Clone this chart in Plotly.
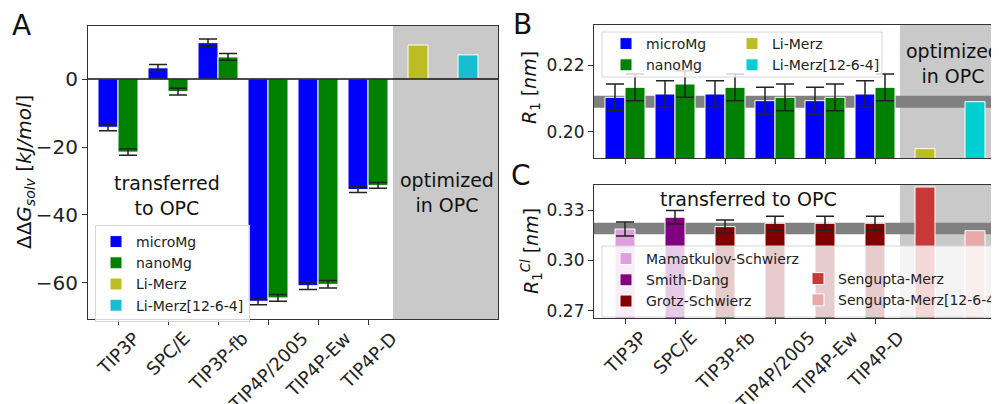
import plotly.graph_objects as go

# ---------------- data ----------------
water_models = ["TIP3P", "SPC/E", "TIP3P-fb", "TIP4P/2005", "TIP4P-Ew", "TIP4P-D"]

# Panel A: solvation free energy difference [kJ/mol]
dG_micro = [-14.2, 3.3, 10.7, -65.4, -60.8, -32.5]
dG_micro_err = [1.0, 1.0, 1.05, 1.0, 1.1, 0.9]
dG_nano = [-21.5, -3.7, 6.5, -64.4, -60.4, -31.3]
dG_nano_err = [0.9, 1.0, 1.0, 1.0, 1.1, 0.85]
opt_names = ["Li-Merz", "Li-Merz[12-6-4]"]
dG_opt = [10.0, 7.1]

# Panel B: R1 [nm]
R1_micro = [0.2103, 0.2113, 0.2113, 0.2093, 0.2093, 0.2113]
R1_micro_err = [0.0040, 0.0040, 0.0040, 0.0040, 0.0040, 0.0040]
R1_nano = [0.2133, 0.2143, 0.2133, 0.2103, 0.2103, 0.2133]
R1_nano_err = [0.0040, 0.0040, 0.0040, 0.0040, 0.0040, 0.0040]
R1_opt = [0.1949, 0.2090]
R1_ref = 0.209
R1_ref_err = 0.0018

# Panel C: R1 Cl [nm]
cl_force_field = ["Mamatkulov-Schwierz", "Smith-Dang", "Grotz-Schwierz",
                  "Grotz-Schwierz", "Grotz-Schwierz", "Grotz-Schwierz"]
R1Cl = [0.3187, 0.3257, 0.3201, 0.3221, 0.3221, 0.3221]
R1Cl_err = [0.0042, 0.0040, 0.0040, 0.0042, 0.0042, 0.0042]
cl_opt_names = ["Sengupta-Merz", "Sengupta-Merz[12-6-4]"]
R1Cl_opt = [0.3437, 0.3177]
R1Cl_ref = 0.319
R1Cl_ref_err = 0.0034

# ---------------- styling ----------------
W, H = 999, 404
OFF = 8  # page body margin offset in the browser
FONT = "DejaVu Sans"
AX = "#333333"
C_MICRO, C_NANO = "#0000ff", "#008000"
C_LM_A, C_LM12_A = "#bcbd22", "#17becf"
C_LM_B, C_LM12_B = "#bcbd22", "#00ced1"
CL_COLORS = {"Mamatkulov-Schwierz": "#dda0dd", "Smith-Dang": "#800080",
             "Grotz-Schwierz": "#800000"}
CL_OPT_COLORS = ["#c83838", "#eaa9a9"]
LIGHTGREY = "#c9c9c9"
BAND = "#808080"


def px(x):
    return (x - OFF) / W


def py(y):
    return 1 - (y - OFF) / H


xpos = list(range(len(water_models)))
xopt = [len(water_models), len(water_models) + 1]

fig = go.Figure()
err_style = dict(type="data", visible=True, color="#222222", thickness=1.5, width=9)
bar_line = dict(color="white", width=1)


def add_bar(x, y, err, color, name, xa, ya, legend, offset, show=True):
    kw = {}
    if err is not None:
        kw["error_y"] = dict(array=err, **err_style)
    fig.add_trace(go.Bar(x=x, y=y, name=name, marker=dict(color=color, line=bar_line),
                         width=0.4, offset=offset, xaxis=xa, yaxis=ya,
                         legend=legend, showlegend=show, **kw))


# Panel A
add_bar(xpos, dG_micro, dG_micro_err, C_MICRO, "microMg", "x", "y", "legend", -0.4)
add_bar(xpos, dG_nano, dG_nano_err, C_NANO, "nanoMg", "x", "y", "legend", 0.0)
add_bar([xopt[0]], [dG_opt[0]], None, C_LM_A, opt_names[0], "x", "y", "legend", -0.2)
add_bar([xopt[1]], [dG_opt[1]], None, C_LM12_A, opt_names[1], "x", "y", "legend", -0.2)

# Panel B
add_bar(xpos, R1_micro, R1_micro_err, C_MICRO, "microMg", "x2", "y2", "legend2", -0.4)
add_bar(xpos, R1_nano, R1_nano_err, C_NANO, "nanoMg", "x2", "y2", "legend2", 0.0)
add_bar([xopt[0]], [R1_opt[0]], None, C_LM_B, opt_names[0], "x2", "y2", "legend3", -0.2)
add_bar([xopt[1]], [R1_opt[1]], None, C_LM12_B, opt_names[1], "x2", "y2", "legend3", -0.2)

# Panel C
seen = []
for ff in cl_force_field:
    if ff in seen:
        continue
    seen.append(ff)
    idx = [i for i, f in enumerate(cl_force_field) if f == ff]
    add_bar([xpos[i] for i in idx], [R1Cl[i] for i in idx], [R1Cl_err[i] for i in idx],
            CL_COLORS[ff], ff, "x3", "y3", "legend4", -0.2)
add_bar([xopt[0]], [R1Cl_opt[0]], None, CL_OPT_COLORS[0], cl_opt_names[0], "x3", "y3", "legend5", -0.2)
add_bar([xopt[1]], [R1Cl_opt[1]], None, CL_OPT_COLORS[1], cl_opt_names[1], "x3", "y3", "legend5", -0.2)

# ---------------- axes ----------------
common = dict(showline=True, linecolor=AX, linewidth=1.25, ticks="outside", ticklen=5,
              tickwidth=1.25, tickcolor=AX, showgrid=False, zeroline=False)
fA = dict(family=FONT, size=20, color="#222222")
fBC = dict(family=FONT, size=17, color="#222222")

xA = [px(88), px(498)]
xBC = [px(594), 1.0]
RBC = [-0.62, -0.62 + (W + OFF - 594) / 50.0]
fig.update_layout(
    xaxis=dict(domain=xA, range=[-0.6, 7.6], tickvals=xpos, showticklabels=False,
               mirror=True, anchor="y", **common),
    yaxis=dict(domain=[py(319), py(26)], range=[-70.6, 15.6], tickvals=[-60, -40, -20, 0],
               mirror=True, anchor="x", tickfont=fA, **common),
    xaxis2=dict(domain=xBC, range=RBC, tickvals=xpos, showticklabels=False,
                mirror=True, anchor="y2", **common),
    yaxis2=dict(domain=[py(158), py(25)], range=[0.1921, 0.232], tickvals=[0.20, 0.22],
                tickformat=".2f", mirror=False, anchor="x2", tickfont=fBC, **common),
    xaxis3=dict(domain=xBC, range=RBC, tickvals=xpos, showticklabels=False,
                mirror=True, anchor="y3", **common),
    yaxis3=dict(domain=[py(318), py(185)], range=[0.2657, 0.3449],
                tickvals=[0.27, 0.30, 0.33], tickformat=".2f", mirror=False, anchor="x3",
                tickfont=fBC, **common),
)

# ---------------- shapes ----------------
shapes = []
shapes.append(dict(type="rect", xref="x", yref="y", x0=5.5, x1=7.6, y0=-70.6, y1=15.6,
                   fillcolor=LIGHTGREY, line_width=0, layer="below"))
shapes.append(dict(type="rect", xref="x2", yref="y2", x0=5.5, x1=RBC[1], y0=0.1921, y1=0.232,
                   fillcolor=LIGHTGREY, line_width=0, layer="below"))
shapes.append(dict(type="rect", xref="x3", yref="y3", x0=5.5, x1=RBC[1], y0=0.2657, y1=0.3449,
                   fillcolor=LIGHTGREY, line_width=0, layer="below"))
shapes.append(dict(type="rect", xref="x2", yref="y2", x0=RBC[0], x1=RBC[1],
                   y0=R1_ref - R1_ref_err, y1=R1_ref + R1_ref_err,
                   fillcolor=BAND, line_width=0, layer="below"))
shapes.append(dict(type="rect", xref="x3", yref="y3", x0=RBC[0], x1=RBC[1],
                   y0=R1Cl_ref - R1Cl_ref_err, y1=R1Cl_ref + R1Cl_ref_err,
                   fillcolor=BAND, line_width=0, layer="below"))
shapes.append(dict(type="line", xref="x", yref="y", x0=-0.6, x1=7.6, y0=0, y1=0,
                   line=dict(color="#111111", width=1.5), layer="above"))
shapes.append(dict(type="rect", xref="paper", yref="paper", x0=px(602), x1=px(882),
                   y0=py(77), y1=py(32), fillcolor="rgba(255,255,255,0.8)",
                   line=dict(color="#d6d6d6", width=1), layer="above"))
shapes.append(dict(type="rect", xref="paper", yref="paper", x0=px(602), x1=1.02,
                   y0=py(317), y1=py(246), fillcolor="rgba(255,255,255,0.8)",
                   line=dict(color="#d6d6d6", width=1), layer="above"))
fig.update_layout(shapes=shapes)

# ---------------- legends ----------------
leg_font = dict(family=FONT, size=14, color="#222222")
fig.update_layout(
    legend=dict(x=px(95), y=py(225), xanchor="left", yanchor="top",
                bgcolor="rgba(255,255,255,0.8)", bordercolor="#d6d6d6", borderwidth=1,
                font=leg_font, traceorder="normal"),
    legend2=dict(x=px(606), y=py(28), xanchor="left", yanchor="top",
                 bgcolor="rgba(0,0,0,0)", borderwidth=0, font=leg_font, traceorder="normal"),
    legend3=dict(x=px(732), y=py(28), xanchor="left", yanchor="top",
                 bgcolor="rgba(0,0,0,0)", borderwidth=0, font=leg_font, traceorder="normal"),
    legend4=dict(x=px(606), y=py(243), xanchor="left", yanchor="top",
                 bgcolor="rgba(0,0,0,0)", borderwidth=0, font=leg_font, traceorder="normal"),
    legend5=dict(x=px(798), y=py(263), xanchor="left", yanchor="top",
                 bgcolor="rgba(0,0,0,0)", borderwidth=0, font=leg_font, traceorder="normal"),
)

# ---------------- annotations ----------------
ann = []


def text(x, y, s, size, angle=0):
    ann.append(dict(x=px(x), y=py(y), xref="paper", yref="paper", text=s, showarrow=False,
                    textangle=angle, font=dict(family=FONT, size=size, color="#111111"),
                    xanchor="center", yanchor="middle", align="center"))


# rotated, centre-aligned category labels (matplotlib style)
for xa, ytop in (("x", 325), ("x3", 324)):
    for xv, lab in zip(xpos, water_models):
        ann.append(dict(x=xv, y=py(ytop), xref=xa, yref="paper", text=lab, showarrow=False,
                        textangle=-45, xanchor="center", yanchor="top",
                        font=dict(family=FONT, size=18, color="#222222")))

text(21, 25, "A", 28)
text(522, 24, "B", 28)
text(521, 176, "C", 28)
text(167, 195, "transferred<br>to OPC", 19)
text(447, 193, "optimized<br>in OPC", 19)
text(953, 63, "optimized<br>in OPC", 19)
text(748, 199, "transferred to OPC", 19)
text(25, 172, "ΔΔ<i>G</i><sub><i>solv</i></sub> [<i>kJ/mol</i>]", 20, -90)
text(531, 88, "<i>R</i><sub>1</sub> [<i>nm</i>]", 19, -90)
text(531, 251, "<i>R</i><sub>1</sub><sup><i>Cl</i></sup> [<i>nm</i>]", 19, -90)
fig.update_layout(annotations=ann)

fig.update_layout(
    width=W, height=H, margin=dict(l=0, r=0, t=0, b=0, autoexpand=False),
    paper_bgcolor="white", plot_bgcolor="white", barmode="overlay",
    font=dict(family=FONT, color="#222222"),
)

fig.write_html("out.html")
